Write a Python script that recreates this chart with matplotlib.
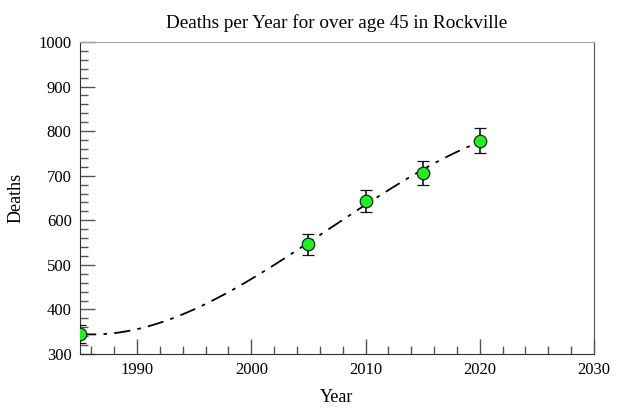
import numpy as np
import matplotlib
matplotlib.use("Agg")
import matplotlib.pyplot as plt
from matplotlib.ticker import MultipleLocator

years = [1985, 2005, 2010, 2015, 2020]
deaths = [345, 546, 644, 706, 778]
errors = [20, 23, 25, 26, 28]

plt.rcParams['font.family'] = ['Liberation Serif', 'DejaVu Serif']

fig = plt.figure(figsize=(6.19, 4.13), dpi=100)
ax = fig.add_axes([80/619, 1-354/413, 514/619, 312/413])

# smooth fitted curve through the data
coef = np.polyfit(years, deaths, 3)
xs = np.linspace(years[0], years[-1], 300)
ax.plot(xs, np.polyval(coef, xs), color='black', lw=1.3, dashes=(9, 4, 2, 4), zorder=2)

ax.errorbar(years, deaths, yerr=errors, fmt='o', color='black', ecolor='#111111',
            elinewidth=1.2, capsize=4, capthick=1.2, markersize=9,
            markerfacecolor='#22ee22', markeredgecolor='#222222', markeredgewidth=0.9, zorder=3)

ax.set_xlim(1985, 2030)
ax.set_ylim(300, 1000)
ax.xaxis.set_minor_locator(MultipleLocator(2))
ax.yaxis.set_major_locator(MultipleLocator(100))
ax.yaxis.set_minor_locator(MultipleLocator(20))
ax.set_xticks([1990, 2000, 2010, 2020, 2030])
ax.tick_params(which='major', direction='in', length=11, width=1, color='#555555', labelsize=12, pad=6)
ax.tick_params(which='minor', direction='in', length=5.5, width=1, color='#555555')
ax.tick_params(top=False, right=False, which='both')

ax.spines['left'].set_color('#333333')
ax.spines['bottom'].set_color('#333333')
ax.spines['top'].set_color('#aaaaaa')
ax.spines['right'].set_color('#555555')

ax.set_title('Deaths per Year for over age 45 in Rockville', fontsize=13.8, pad=10)
ax.set_xlabel('Year', fontsize=13, labelpad=8)
ax.set_ylabel('Deaths', fontsize=13, labelpad=10)

fig.savefig('out.png', dpi=100)
